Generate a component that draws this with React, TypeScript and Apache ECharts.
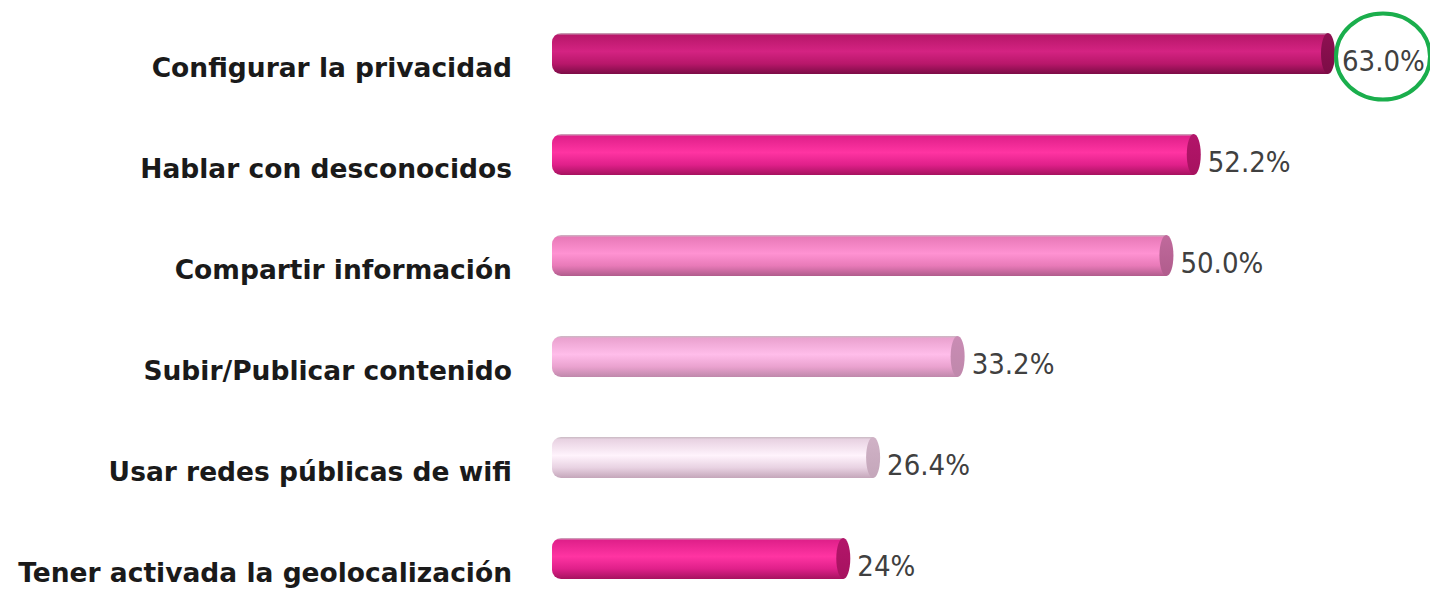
import React, { useEffect, useRef } from "react";
import * as echarts from "echarts";

const categories = [
  "Configurar la privacidad",
  "Hablar con desconocidos",
  "Compartir información",
  "Subir/Publicar contenido",
  "Usar redes públicas de wifi",
  "Tener activada la geolocalización",
];
const values = [63.0, 52.2, 50.0, 33.2, 26.4, 24];
const valueLabels = ["63.0%", "52.2%", "50.0%", "33.2%", "26.4%", "24%"];
const highlightIndex = 0;

// styles per bar: [top edge, bright middle, bottom dark, cap]
const barStyles = [
  ["#b8176a", "#d42382", "#7c0c46", "#8e1052"],
  ["#e0208a", "#ff34a2", "#a6125f", "#b3156a"],
  ["#e87ab8", "#ff92d2", "#b05c8c", "#c06a9c"],
  ["#eaa2cf", "#ffbdea", "#bf88ab", "#c98cb4"],
  ["#e8d2e2", "#fff3fc", "#c4a6ba", "#d0b2c6"],
  ["#e0208a", "#ff34a2", "#a6125f", "#b3156a"],
];

export default function App() {
  const ref = useRef<HTMLDivElement>(null);
  useEffect(() => {
    if (!ref.current) return;
    const chart = echarts.init(ref.current, null, { renderer: "svg" });
    const data = values.map((v, i) => [v, i]);
    chart.setOption({
      animation: false,
      grid: {
        left: 552,
        right: 8,
        top: 3,
        bottom: -20,
        containLabel: false,
        outerBoundsMode: "none",
      },
      xAxis: {
        type: "value",
        min: 0,
        max: 70,
        show: false,
      },
      yAxis: {
        type: "category",
        data: categories,
        inverse: true,
        axisLine: { show: false },
        axisTick: { show: false },
        splitLine: { show: false },
        axisLabel: {
          margin: 40,
          color: "#1a1a1a",
          fontWeight: "bold",
          fontSize: 26.5,
          fontFamily: "DejaVu Sans",
          verticalAlign: "top",
        },
      },
      series: [
        {
          type: "custom",
          encode: { x: 0, y: 1 },
          data,
          renderItem: (params: any, api: any) => {
            const v = api.value(0);
            const idx = api.value(1);
            const s = api.coord([0, idx]);
            const e = api.coord([v, idx]);
            const h = 41;
            const rx = 7;
            const y = e[1] - h / 2;
            const st = barStyles[params.dataIndex];
            const children: any[] = [
              {
                type: "rect",
                shape: { x: s[0], y, width: e[0] - rx - s[0], height: h, r: [9, 0, 0, 9] },
                style: {
                  fill: new echarts.graphic.LinearGradient(0, 0, 0, 1, [
                    { offset: 0, color: "#c9b9c2" },
                    { offset: 0.06, color: st[0] },
                    { offset: 0.45, color: st[1] },
                    { offset: 0.75, color: st[0] },
                    { offset: 1, color: st[2] },
                  ]),
                },
              },
              {
                type: "ellipse",
                shape: { cx: e[0] - rx, cy: e[1], rx, ry: h / 2 },
                style: {
                  fill: new echarts.graphic.LinearGradient(0, 0, 0, 1, [
                    { offset: 0, color: st[3] },
                    { offset: 1, color: st[2] },
                  ]),
                },
              },
              {
                type: "text",
                style: {
                  x: e[0] + 7,
                  y: e[1] + 7,
                  text: valueLabels[params.dataIndex],
                  fill: "#404040",
                  fontSize: 29,
                  fontFamily: "DejaVu Sans Condensed",
                  verticalAlign: "middle",
                  align: "left",
                },
              },
            ];
            if (params.dataIndex === highlightIndex) {
              children.push({
                type: "ellipse",
                shape: { cx: e[0] + 48, cy: e[1] + 3, rx: 47, ry: 43 },
                style: { fill: "none", stroke: "#1aae4c", lineWidth: 4 },
              });
            }
            return { type: "group", children };
          },
        },
      ],
    });
    return () => chart.dispose();
  }, []);
  return (
    <div
      ref={ref}
      style={{ position: "absolute", left: 0, top: 0, width: 1430, height: 589, background: "#fff" }}
    />
  );
}
